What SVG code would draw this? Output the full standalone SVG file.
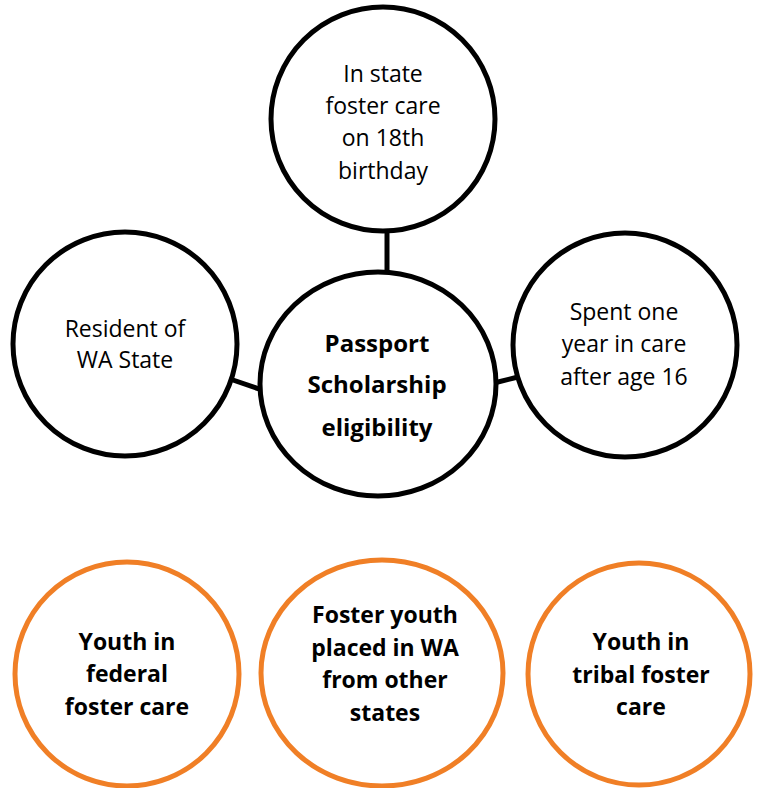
<svg xmlns="http://www.w3.org/2000/svg" width="763" height="788" viewBox="0 0 763 788">
<style>
.blk{fill:#fff;stroke:#000;stroke-width:5}
.org{fill:#fff;stroke:#F07F26;stroke-width:5}
.conn{stroke:#000;stroke-width:5;fill:none}
text{font-family:"Open Sans","Noto Sans","Liberation Sans",sans-serif;fill:#000;text-anchor:middle}
.r{font-size:23px;font-weight:400}
.b{font-size:23px;font-weight:700}
.c{font-size:24px;font-weight:700}
</style>
<rect width="763" height="788" fill="#fff"/>
<g id="connectors">
<line class="conn" x1="387" y1="228" x2="387" y2="274"/>
<line class="conn" x1="230" y1="379" x2="262" y2="390"/>
<line class="conn" x1="494" y1="383" x2="518" y2="377"/>
</g>
<g id="node-top">
<circle class="blk" cx="383" cy="119" r="112"/>
<text class="r" x="383" y="82">In state</text>
<text class="r" x="383" y="114">foster care</text>
<text class="r" x="383" y="146">on 18th</text>
<text class="r" x="383" y="179">birthday</text>
</g>
<g id="node-left">
<circle class="blk" cx="125" cy="344" r="112"/>
<text class="r" x="125" y="337">Resident of</text>
<text class="r" x="125" y="368">WA State</text>
</g>
<g id="node-right">
<circle class="blk" cx="625" cy="345" r="112"/>
<text class="r" x="624" y="320">Spent one</text>
<text class="r" x="624" y="352">year in care</text>
<text class="r" x="624" y="385">after age 16</text>
</g>
<g id="node-center">
<ellipse class="blk" cx="378" cy="384" rx="118" ry="112"/>
<text class="c" x="377" y="352">Passport</text>
<text class="c" x="377" y="393">Scholarship</text>
<text class="c" x="377" y="436">eligibility</text>
</g>
<g id="node-federal">
<circle class="org" cx="127" cy="674" r="112"/>
<text class="b" x="127" y="650">Youth in</text>
<text class="b" x="127" y="682">federal</text>
<text class="b" x="127" y="715">foster care</text>
</g>
<g id="node-other-states">
<ellipse class="org" cx="382" cy="673" rx="121" ry="113"/>
<text class="b" x="385" y="623">Foster youth</text>
<text class="b" x="385" y="656">placed in WA</text>
<text class="b" x="385" y="688">from other</text>
<text class="b" x="385" y="721">states</text>
</g>
<g id="node-tribal">
<circle class="org" cx="639" cy="674" r="111"/>
<text class="b" x="641" y="650">Youth in</text>
<text class="b" x="641" y="683">tribal foster</text>
<text class="b" x="641" y="715">care</text>
</g>
</svg>
